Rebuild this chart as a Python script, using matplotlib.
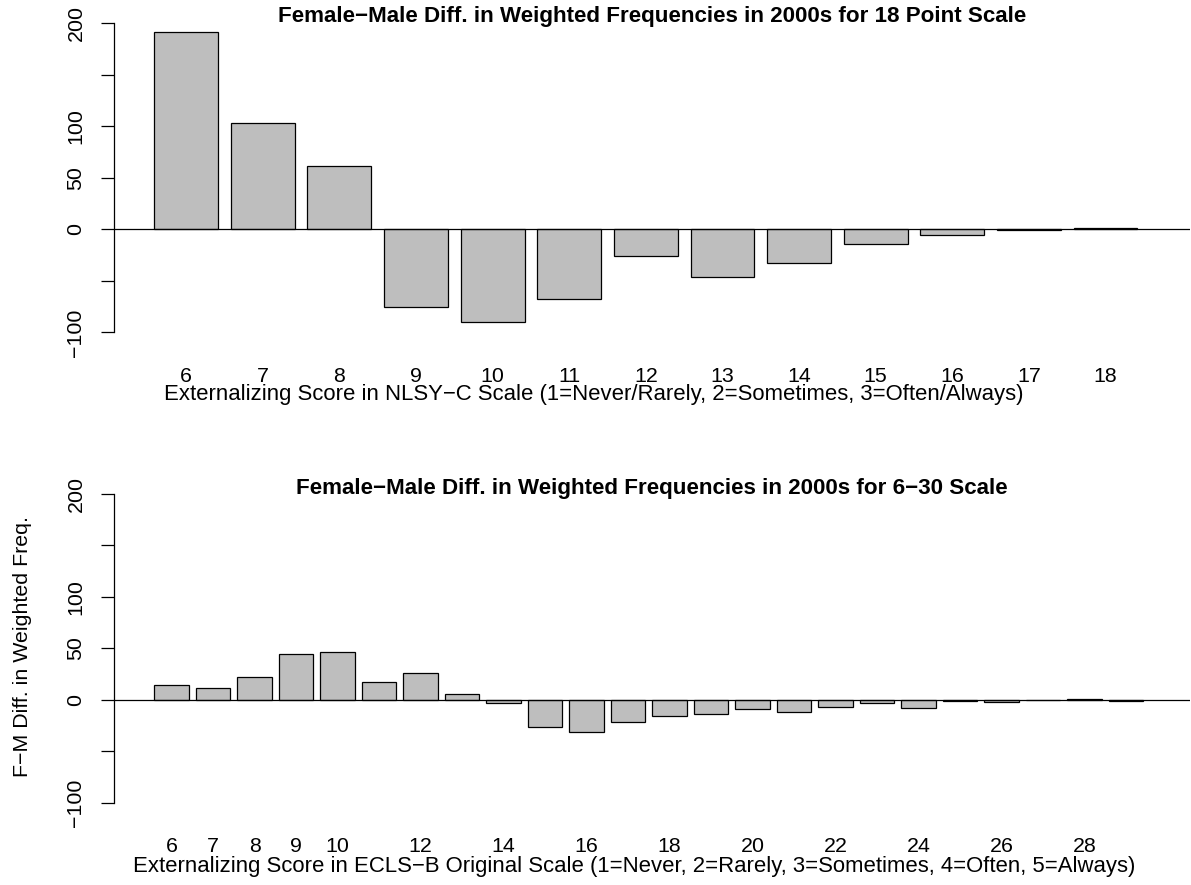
import numpy as np
import matplotlib
matplotlib.use("Agg")
import matplotlib.pyplot as plt
from matplotlib.transforms import blended_transform_factory

plt.rcParams['font.family'] = ['Liberation Sans', 'DejaVu Sans']

# ---------------- data ----------------
top_scores = [6, 7, 8, 9, 10, 11, 12, 13, 14, 15, 16, 17, 18]
top_diff = [191.9, 102.9, 61.2, -75.1, -89.6, -68.0, -25.9, -46.3, -32.7, -14.2, -5.2, -0.4, 1.0]
top_labels = ['6', '7', '8', '9', '10', '11', '12', '13', '14', '15', '16', '17', '18']

bot_scores = list(range(6, 30))
bot_diff = [14.6, 11.0, 22.3, 44.3, 46.3, 16.8, 25.9, 5.5, -3.6, -26.5, -31.0, -22.0,
            -16.2, -13.9, -9.0, -11.7, -6.8, -2.9, -8.4, -1.3, -2.6, -0.4, 0.4, -1.3]
bot_labels = ['6', '7', '8', '9', '10', '', '12', '', '14', '', '16', '', '18', '',
              '20', '', '22', '', '24', '', '26', '', '28', '']

ytick_vals = [-100, -50, 0, 50, 100, 150, 200]
ytick_labels = ['\u2212100', '', '0', '50', '100', '', '200']

top_title = 'Female\u2212Male Diff. in Weighted Frequencies in 2000s for 18 Point Scale'
bot_title = 'Female\u2212Male Diff. in Weighted Frequencies in 2000s for 6\u221230 Scale'
top_xlab = 'Externalizing Score in NLSY\u2212C Scale (1=Never/Rarely, 2=Sometimes, 3=Often/Always)'
bot_xlab = 'Externalizing Score in ECLS\u2212B Original Scale (1=Never, 2=Rarely, 3=Sometimes, 4=Often, 5=Always)'
ylab = 'F\u2212M Diff. in Weighted Freq.'

# ---------------- layout ----------------
W, H = 1191, 885
fig = plt.figure(figsize=(W / 100, H / 100), dpi=100)
renderer = fig.canvas.get_renderer()


def fx(px):
    return px / W


def fy(py):
    return 1 - py / H


def fit_size(text, target_px, weight='normal', base=14.0, vertical=False):
    t = fig.text(0, 0, text, fontsize=base, fontweight=weight,
                 rotation=90 if vertical else 0)
    bb = t.get_window_extent(renderer)
    size = base * target_px / (bb.height if vertical else bb.width)
    t.remove()
    return size


FS_top = fit_size(top_xlab, 862)
FS_bot = fit_size(bot_xlab, 1005)
FS = 0.5 * (FS_top + FS_bot) * 0.97
TFS_top = fit_size(top_title, 751, 'bold')
TFS_bot = fit_size(bot_title, 710, 'bold')
TFS = 0.5 * (TFS_top + TFS_bot)

left_px, right_px = 114.4, 1190.0


def make_panel(top_px, bot_px, values, labels, title, title_base, xlab, xlab_base,
               tick_base, xlab_center, xlab_fs):
    ax = fig.add_axes([fx(left_px), fy(bot_px), fx(right_px - left_px),
                       (bot_px - top_px) / H])
    n = len(values)
    x = 0.7 + 1.2 * np.arange(n)
    lo, hi = 0.2, 1.2 * n + 0.2
    ext = 0.04 * (hi - lo)
    ax.set_xlim(lo - ext, hi + ext)
    ax.set_ylim(-112, 212)
    ax.bar(x, values, width=1.0, color='#BEBEBE', edgecolor='black', linewidth=0.9,
           zorder=2)
    ax.axhline(0, color='black', linewidth=0.9, zorder=3)
    for s in ['top', 'right', 'bottom']:
        ax.spines[s].set_visible(False)
    ax.spines['left'].set_bounds(-100, 200)
    ax.spines['left'].set_linewidth(0.9)
    ax.set_xticks([])
    ax.set_yticks(ytick_vals)
    ax.set_yticklabels([])
    ax.tick_params(axis='y', length=9.4, width=0.9, direction='out')
    tr_y = blended_transform_factory(fig.transFigure, ax.transData)
    for v, lab in zip(ytick_vals, ytick_labels):
        if lab:
            ax.text(fx(76.0), v, lab, rotation=90, ha='center', va='center',
                    fontsize=FS, transform=tr_y)
    tr_x = blended_transform_factory(ax.transData, fig.transFigure)
    for xi, lab in zip(x, labels):
        if lab:
            ax.text(xi, fy(tick_base), lab, ha='center', va='baseline', fontsize=FS,
                    transform=tr_x)
    fig.text(fx((left_px + right_px) / 2), fy(title_base), title, ha='center',
             va='baseline', fontsize=TFS, fontweight='bold')
    fig.text(fx(xlab_center), fy(xlab_base), xlab, ha='center', va='baseline',
             fontsize=xlab_fs)
    return ax


make_panel(10.97, 344.7, top_diff, top_labels, top_title, 22.0, top_xlab, 400.0,
           382.0, 594.2, FS_top)
make_panel(481.3, 815.0, bot_diff, bot_labels, bot_title, 494.0, bot_xlab, 871.7,
           852.0, 634.2, FS_bot)

fig.text(fx(23), fy(646.7), ylab, rotation=90, ha='center', va='center', fontsize=FS)

fig.savefig('out.png', dpi=100)
